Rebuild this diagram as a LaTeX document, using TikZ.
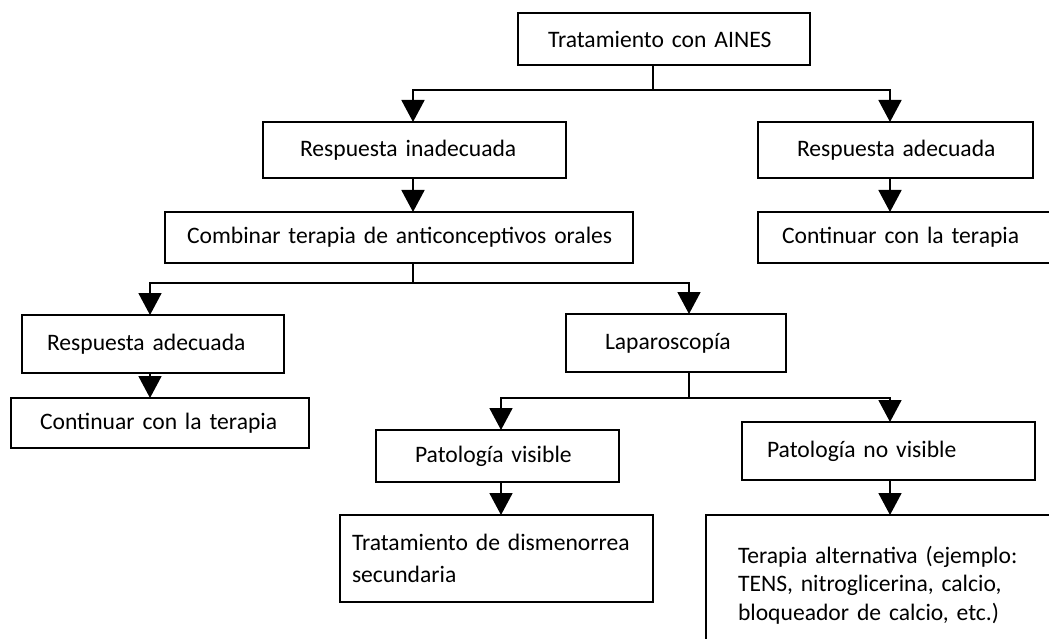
\documentclass[tikz,border=0pt]{standalone}
\usepackage{fontspec}
\setmainfont{Carlito}
\usetikzlibrary{arrows.meta}
\begin{document}
\begin{tikzpicture}[x=1pt,y=-1pt,
  bx/.style={draw, line width=1.8pt, rectangle, anchor=north west, align=left,
    inner ysep=0pt, outer sep=0pt, font=\fontsize{23.6}{28.3}\selectfont},
  ln/.style={line width=1.8pt},
  arr/.style={line width=1.8pt, -{Triangle[length=22pt,width=23pt]}}]
\useasboundingbox (0,0) rectangle (1049,639);
\clip (0,0) rectangle (1049,639);
% column x positions
\coordinate (x1) at (150,0);
\coordinate (x2) at (413,0);
\coordinate (x3) at (501,0);
\coordinate (x4) at (689,0);
\coordinate (x5) at (890,0);
% boxes
\node[bx, minimum height=52pt, inner xsep=30pt, text width=232pt] (top) at (518,13) {\mbox{Tratamiento con AINES}};
\node[bx, minimum height=56pt, inner xsep=37pt, text width=229pt] (inad) at (263,122) {\mbox{Respuesta inadecuada}};
\node[bx, minimum height=56pt, inner xsep=39pt, text width=197pt] (radR) at (758,122) {\mbox{Respuesta adecuada}};
\node[bx, minimum height=51pt, inner xsep=22pt, text width=424pt] (comb) at (165,212) {\mbox{Combinar terapia de anticonceptivos orales}};
\node[bx, minimum height=51pt, inner xsep=24pt, text width=272pt] (contR) at (758,212) {\mbox{Continuar con la terapia}};
\node[bx, minimum height=58pt, inner xsep=25pt, text width=212pt] (radL) at (22,315) {\mbox{Respuesta adecuada}};
\node[bx, minimum height=50pt, inner xsep=29pt, text width=240pt] (contL) at (11,398) {\mbox{Continuar con la terapia}};
\node[bx, minimum height=58pt, inner xsep=39pt, text width=142pt] (lap) at (566,314) {\mbox{Laparoscopía}};
\node[bx, minimum height=52pt, inner xsep=39pt, text width=165pt] (pv) at (376,430) {\mbox{Patología visible}};
\node[bx, minimum height=58pt, inner xsep=25pt, text width=243pt] (pnv) at (742,422) {\mbox{Patología no visible}};
\node[bx, minimum height=87pt, inner xsep=12pt, text width=289pt,
  font=\fontsize{23.6}{32.7}\selectfont] (trat) at (340,515) {Tratamiento de dismenorrea\\secundaria};
\node[bx, minimum height=140pt, inner xsep=32pt, text width=330pt] (talt) at (706,515)
  {Terapia alternativa (ejemplo:\\TENS, nitroglicerina, calcio,\\bloqueador de calcio, etc.)};
% connectors
\coordinate (r1) at (653,90);
\draw[ln] (top.south -| r1) -- (r1);
\draw[arr] (r1) -| (inad.north -| x2);
\draw[arr] (r1) -| (radR.north -| x5);
\draw[arr] (inad.south -| x2) -- (comb.north -| x2);
\draw[arr] (radR.south -| x5) -- (contR.north -| x5);
\coordinate (r2) at (413,283);
\draw[ln] (comb.south -| r2) -- (r2);
\draw[arr] (r2) -| (radL.north -| x1);
\draw[arr] (r2) -| (lap.north -| x4);
\draw[arr] (radL.south -| x1) -- (contL.north -| x1);
\coordinate (r3) at (689,398);
\draw[ln] (lap.south -| r3) -- (r3);
\draw[arr] (r3) -| (pv.north -| x3);
\draw[arr] (r3) -| (pnv.north -| x5);
\draw[arr] (pv.south -| x3) -- (trat.north -| x3);
\draw[arr] (pnv.south -| x5) -- (talt.north -| x5);
\end{tikzpicture}
\end{document}
